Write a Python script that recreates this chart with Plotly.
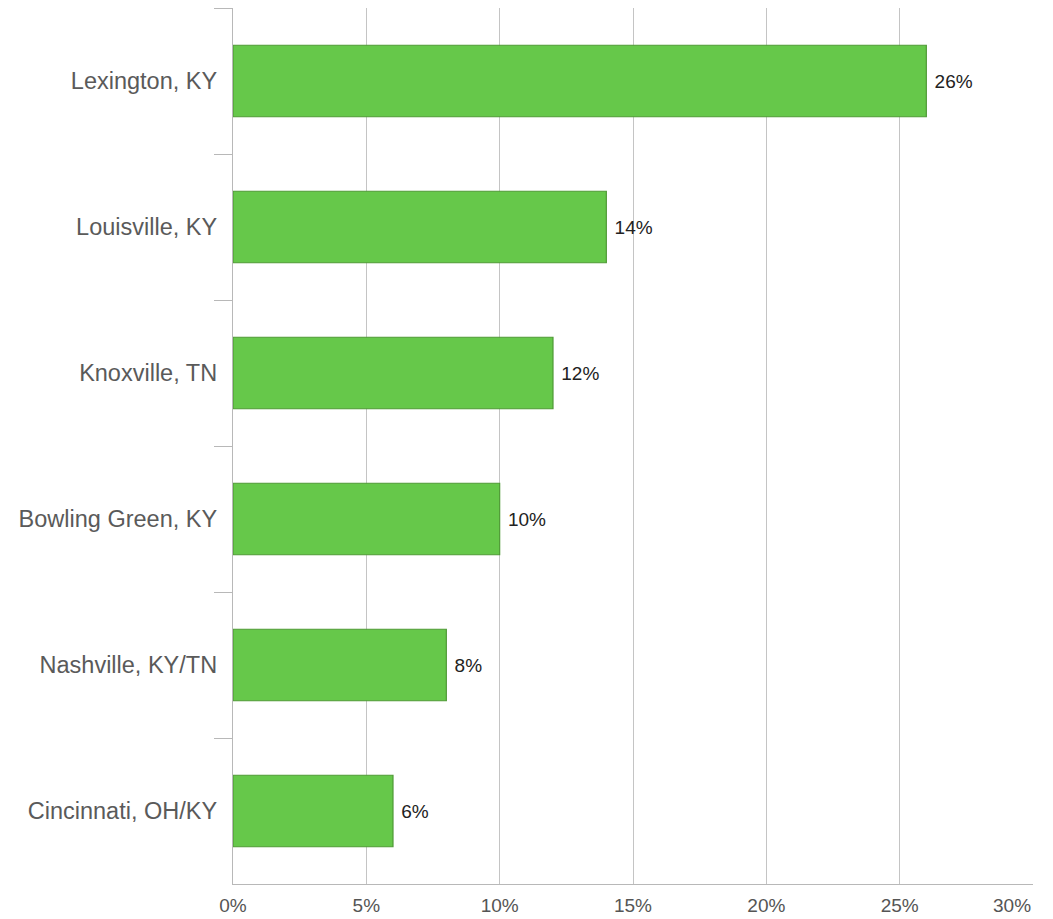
import plotly.graph_objects as go

cities = ["Lexington, KY", "Louisville, KY", "Knoxville, TN", "Bowling Green, KY",
          "Nashville, KY/TN", "Cincinnati, OH/KY"]
values = [26, 14, 12, 10, 8, 6]
tick_vals = [0, 5, 10, 15, 20, 25, 30]
tick_text = ["0%", "5%", "10%", "15%", "20%", "25%", "30%"]
labels = [f"\u00a0{v}%" for v in values]

fig = go.Figure(go.Bar(
    x=values, y=cities, orientation="h",
    marker=dict(color="#66c84a", line=dict(color="#4f9a36", width=1.2)),
    text=labels, textposition="outside",
    textfont=dict(family="Liberation Sans, Arial", size=19, color="#222222"),
    cliponaxis=False,
))

# last tick label is drawn right-aligned to its gridline, as in the reference
fig.add_annotation(
    x=tick_vals[-1], xref="x", y=0, yref="paper",
    text=tick_text[-1], showarrow=False,
    xanchor="right", yanchor="top", yshift=-9,
    font=dict(family="Liberation Sans, Arial", size=19, color="#555555"),
)

fig.update_layout(
    width=1045, height=911,
    margin=dict(l=225, r=20, t=0, b=35, autoexpand=False),
    paper_bgcolor="white", plot_bgcolor="white",
    bargap=0.51,
    showlegend=False,
    font=dict(family="Liberation Sans, Arial", color="#555555"),
)
fig.update_xaxes(
    range=[0, 30], tickvals=tick_vals, ticktext=tick_text[:-1] + [""],
    showgrid=True, gridcolor="#c4c4c4", gridwidth=1.3,
    showline=True, linecolor="#b8b8b8", linewidth=1.3,
    ticks="", tickfont=dict(size=19, color="#555555"),
    zeroline=False, fixedrange=True, automargin=False,
    ticklabelstandoff=4,
)
fig.update_yaxes(
    autorange="reversed", categoryorder="array", categoryarray=cities,
    showline=True, linecolor="#b8b8b8", linewidth=1.3,
    ticks="outside", ticklen=18, tickcolor="#b8b8b8", tickwidth=1.3,
    tickson="boundaries", showgrid=False, automargin=False,
    tickfont=dict(size=23.5, color="#5a5a5a"),
    ticklabelstandoff=10,
)
fig.write_html("out.html")
